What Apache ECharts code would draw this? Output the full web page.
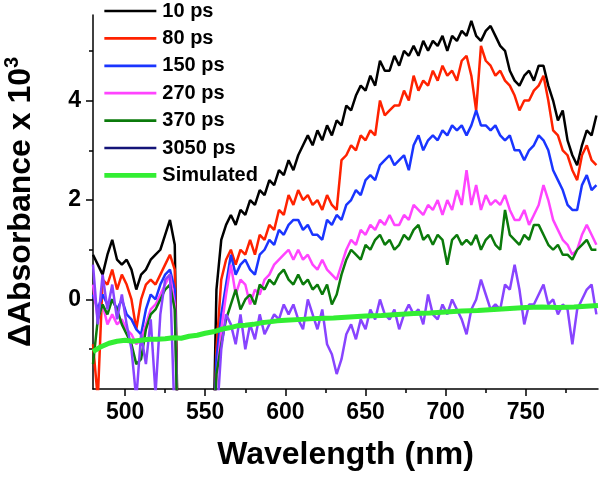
<!DOCTYPE html>
<html>
<head>
<meta charset="utf-8">
<script src="https://cdn.jsdelivr.net/npm/echarts@6/dist/echarts.min.js"></script>
<style>html,body{margin:0;padding:0;background:#fff}#c{width:600px;height:479px}</style>
</head>
<body>
<div id="c"></div>
<script>
// Wavelength grid (nm); 544 is the gap marker (null values)
const wavelengths = [480,483,486,489,492,495,498,501,504,507,510,513,516,519,522,525,528,531,533,544,555,
557,560,563,566,569,572,575,578,581,584,
587,590,593,596,599,602,605,608,611,614,
617,620,623,626,629,632,635,638,641,644,
647,650,653,656,659,662,665,668,671,674,
677,680,683,686,689,692,695,698,701,704,
707,710,713,716,719,722,725,728,731,734,
737,740,743,746,749,752,755,758,761,764,
767,770,773,776,779,782,785,788,791,794];

const ps10 = [0.9,0.7,0.5,0.9,1.2,0.8,0.7,0.8,0.6,0.2,0.5,0.6,0.8,0.9,1.0,1.3,1.6,1.1,-3,null,-3,
0.2,1.2,1.5,1.7,1.5,1.8,1.7,2.0,1.9,2.2,
2.1,2.4,2.3,2.6,2.5,2.8,2.6,2.9,3.1,3.3,
3.1,3.4,3.2,3.5,3.3,3.6,3.5,3.9,3.8,4.1,
4.3,4.2,4.5,4.3,4.8,4.6,4.6,4.9,4.7,5.0,
4.9,5.1,4.9,5.2,5.0,5.2,5.1,5.3,5.0,5.3,
5.2,5.4,5.3,5.6,5.3,5.2,5.4,5.5,5.3,5.1,
5.0,4.6,4.4,4.3,4.5,4.6,4.4,4.7,4.7,4.3,
4.0,3.6,3.8,3.2,2.9,2.7,3.1,3.4,3.3,3.7];

const ps80 = [-0.9,-2.0,0.4,0.3,0.6,0.2,0.5,0.3,0.0,-0.6,0.0,0.3,0.4,0.3,0.5,0.7,0.9,0.6,-3,null,-3,
-1.0,0.4,0.8,1.0,0.7,1.0,0.9,1.2,0.9,1.3,
1.2,1.5,1.4,1.8,1.7,2.1,1.9,2.2,2.0,2.1,
1.9,2.0,1.8,2.1,1.9,1.8,2.8,2.9,3.1,3.0,
3.3,3.2,3.4,3.3,4.0,3.7,3.8,3.9,3.9,4.2,
4.0,4.5,4.2,4.4,4.3,4.6,4.4,4.7,4.5,4.6,
4.4,4.8,4.9,4.5,3.8,5.1,4.8,4.7,4.5,4.6,
4.4,4.3,4.1,3.8,4.0,4.0,4.2,4.3,4.5,4.0,
3.4,3.3,3.0,2.9,2.6,2.4,2.9,3.1,2.8,2.7];

const ps150 = [0.1,-0.2,0.1,-0.1,0.0,-0.2,0.0,-0.3,-0.4,-0.6,-0.7,-0.2,0.1,0.0,0.3,0.5,0.6,0.2,-3,null,-3,
-1.2,-0.3,0.3,0.9,0.5,0.7,0.8,0.6,0.5,0.9,
1.0,1.2,1.1,1.4,1.3,1.5,1.6,1.6,1.4,1.5,
1.3,1.3,1.2,1.6,1.5,1.7,1.6,1.9,2.0,2.2,
2.1,2.4,2.5,2.4,2.7,2.8,2.9,2.7,2.8,2.9,
2.6,3.1,3.3,3.0,3.2,3.3,3.2,3.4,3.3,3.5,
3.4,3.5,3.3,3.5,3.8,3.5,3.5,3.4,3.5,3.3,
3.2,3.3,3.0,3.0,2.8,3.0,3.1,3.3,3.2,3.0,
2.6,2.4,2.2,1.9,1.8,1.8,2.3,2.5,2.2,2.3];

const ps270 = [0.3,-0.4,-0.1,-0.5,-0.3,-0.5,-0.4,-0.6,-0.7,-0.9,-0.8,-0.5,-0.2,-0.1,0.1,0.3,0.5,-0.1,-3,null,-3,
-1.6,-0.6,0.1,0.7,0.1,0.4,0.3,-0.1,0.2,0.1,
0.4,0.5,0.7,0.8,0.9,1.0,0.8,1.0,0.8,0.9,
0.7,0.6,0.8,0.6,0.5,0.4,0.7,1.0,1.2,1.1,
1.4,1.3,1.5,1.4,1.6,1.5,1.7,1.5,1.5,1.7,
1.6,1.9,1.8,1.7,1.9,1.8,2.0,1.7,2.0,1.8,
2.2,1.9,2.6,1.9,2.3,1.8,2.1,1.9,2.0,1.9,
2.1,1.8,1.6,1.6,1.8,1.5,1.7,1.9,2.3,2.0,
1.6,1.4,1.2,1.1,0.9,1.0,1.3,1.5,1.3,1.1];

const ps370 = [-1.3,-0.4,-0.1,-0.3,0.0,-0.2,-0.5,-0.7,-0.9,-1.3,-1.2,-0.6,-0.3,-0.2,0.0,0.2,0.3,-0.2,-3,null,-3,
-1.5,-0.9,-0.4,-0.1,0.2,-0.2,0.0,0.1,-0.1,0.3,
0.2,0.4,0.3,0.5,0.6,0.4,0.3,0.5,0.3,0.4,
0.2,0.3,0.1,0.3,-0.1,0.1,0.5,0.8,1.0,0.9,
0.8,1.1,1.0,1.2,1.3,1.1,1.2,1.0,1.1,1.3,
1.2,1.4,1.5,1.2,1.3,1.1,1.3,1.2,0.7,1.2,
1.3,1.1,1.2,1.1,1.3,1.0,1.2,1.3,1.1,1.0,
1.8,1.3,1.2,1.1,1.3,1.2,1.5,1.5,1.3,1.1,
1.0,1.1,0.9,0.9,0.8,1.0,1.1,1.2,1.0,1.0];

const ps3050 = [0.7,-0.5,0.5,-0.2,0.3,-0.4,0.1,-0.5,-1.0,-2.0,-0.7,-1.3,-0.4,-1.9,-0.3,0.4,0.5,-2.5,-3,null,-3,
-2.5,-1.0,-0.3,-0.5,-0.9,-0.3,-1.0,-0.5,-0.8,-0.3,
-0.7,-0.5,-0.3,-0.4,-0.1,-0.3,-0.1,-0.4,-0.6,0.0,
-0.3,-0.6,-0.2,-0.9,-1.1,-1.5,-1.2,-0.7,-0.5,-0.8,
-0.4,-0.6,-0.2,-0.4,0.0,-0.3,-0.4,-0.2,-0.6,-0.3,
-0.1,-0.3,-0.2,-0.5,0.1,-0.3,-0.4,-0.1,-0.3,0.0,
-0.2,-0.4,-0.7,-0.2,0.0,0.4,0.1,-0.2,-0.1,-0.2,
0.3,0.2,0.7,0.2,-0.5,-0.1,-0.1,0.1,0.3,-0.1,
0.0,-0.3,-0.1,-0.2,-0.9,-0.2,0.0,0.2,0.3,-0.3];

const simWavelengths = [480,485,490,495,500,505,510,515,520,525,530,535,540,545,550,555,560,565,570,575,580,585,590,595,600,610,620,630,640,650,660,670,680,690,700,710,720,730,740,750,760,770,780,790,795];
const simulated = [-1.05,-0.95,-0.88,-0.84,-0.82,-0.84,-0.82,-0.8,-0.8,-0.79,-0.77,-0.78,-0.74,-0.72,-0.68,-0.65,-0.6,-0.57,-0.53,-0.52,-0.5,-0.47,-0.45,-0.43,-0.42,-0.4,-0.38,-0.37,-0.35,-0.33,-0.32,-0.3,-0.28,-0.27,-0.25,-0.23,-0.22,-0.2,-0.18,-0.16,-0.15,-0.16,-0.15,-0.13,-0.12];

const seriesNames = ['10 ps','80 ps','150 ps','270 ps','370 ps','3050 ps','Simulated'];
const xMajorTicks = [500,550,600,650,700,750];
const xMinorTicks = [525,575,625,675,725,775];
const yMajorTicks = [0,2,4];
const yMinorTicks = [-1,1,3,5];

const colors = ['#000000','#ff2200','#1a35ff','#ff44ff','#0b7a0b','#8844ff','#33ee33'];
const legendColors = ['#000000','#ff2200','#1a35ff','#ff44ff','#0b7a0b','#141478','#33ee33'];
const allData = [ps10, ps80, ps150, ps270, ps370, ps3050];
const FONT = 'Liberation Sans, Arial, sans-serif';

const series = allData.map((vals, k) => ({
  name: seriesNames[k], type: 'line', symbol: 'none', clip: true,
  xAxisIndex: 0, yAxisIndex: 0,
  lineStyle: {color: colors[k], width: 2.5}, itemStyle: {color: colors[k]},
  data: wavelengths.map((w, i) => [w, vals[i]])
}));
series.push({
  name: seriesNames[6], type: 'line', symbol: 'none', clip: true,
  lineStyle: {color: colors[6], width: 5}, itemStyle: {color: colors[6]},
  data: simWavelengths.map((w, i) => [w, simulated[i]])
});

const X0 = 480, X1 = 795, Y0 = -1.8, Y1 = 5.72;
const chart = echarts.init(document.getElementById('c'));
chart.setOption({
  animation: false,
  backgroundColor: '#fff',
  grid: {left: 93, right: 2, top: 15, bottom: 90, containLabel: false, outerBoundsMode: 'none'},
  legend: {
    orient: 'vertical', left: 102, top: 1, padding: 0, itemWidth: 52, itemHeight: 14, itemGap: 7.4,
    itemStyle: {opacity: 0, borderWidth: 0},
    textStyle: {fontFamily: FONT, fontWeight: 'bold', fontSize: 20, color: '#000', padding: [0, 0, 0, 1]},
    data: seriesNames.map((n, k) => ({name: n, lineStyle: {color: legendColors[k], width: k === 6 ? 4.7 : 2.7}}))
  },
  xAxis: [
    {type: 'value', min: X0, max: X1, name: 'Wavelength (nm)', nameLocation: 'middle', nameGap: 50,
     nameTextStyle: {fontFamily: FONT, fontWeight: 'bold', fontSize: 32, color: '#000'},
     axisLine: {show: true, onZero: false, lineStyle: {color: '#000', width: 1.5}},
     axisTick: {show: true, length: 7, lineStyle: {color: '#000', width: 1.5}, customValues: xMajorTicks},
     axisLabel: {fontFamily: FONT, fontWeight: 'bold', fontSize: 23, color: '#000', margin: 12, customValues: xMajorTicks},
     splitLine: {show: false}},
    {type: 'value', min: X0, max: X1, position: 'bottom',
     axisLine: {show: false, onZero: false},
     axisTick: {show: true, length: 4, lineStyle: {color: '#000', width: 1.5}, customValues: xMinorTicks},
     axisLabel: {show: false}, splitLine: {show: false}}
  ],
  yAxis: [
    {type: 'value', min: Y0, max: Y1,
     name: '{a|ΔAbsorbance x 10}{s|3}', nameLocation: 'middle', nameRotate: 90, nameGap: 53,
     nameTextStyle: {rich: {
       a: {fontFamily: FONT, fontWeight: 'bold', fontSize: 32, color: '#000', lineHeight: 38},
       s: {fontFamily: FONT, fontWeight: 'bold', fontSize: 20, color: '#000', lineHeight: 38, verticalAlign: 'top'}
     }},
     axisLine: {show: true, onZero: false, lineStyle: {color: '#000', width: 1.5}},
     axisTick: {show: true, length: 7, lineStyle: {color: '#000', width: 1.5}, customValues: yMajorTicks},
     axisLabel: {fontFamily: FONT, fontWeight: 'bold', fontSize: 23, color: '#000', margin: 12, customValues: yMajorTicks},
     splitLine: {show: false}},
    {type: 'value', min: Y0, max: Y1, position: 'left',
     axisLine: {show: false, onZero: false},
     axisTick: {show: true, length: 4, lineStyle: {color: '#000', width: 1.5}, customValues: yMinorTicks},
     axisLabel: {show: false}, splitLine: {show: false}}
  ],
  series: series
});
</script>
</body>
</html>
